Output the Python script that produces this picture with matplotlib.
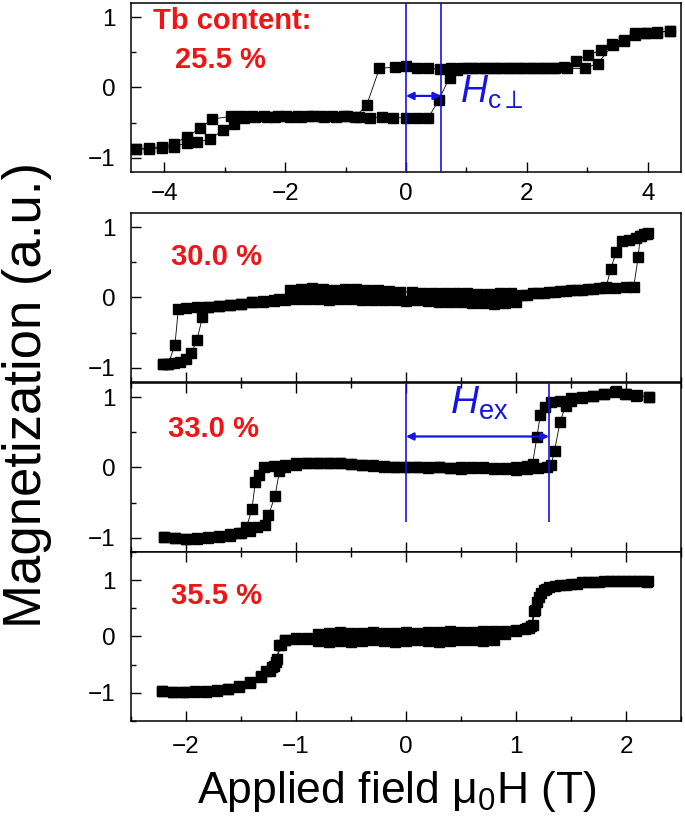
import numpy as np
import matplotlib.pyplot as plt
from matplotlib.ticker import MultipleLocator

plt.rcParams['font.family'] = ['Liberation Sans', 'DejaVu Sans']
plt.rcParams['mathtext.fontset'] = 'custom'
plt.rcParams['mathtext.rm'] = 'Liberation Sans'
plt.rcParams['mathtext.it'] = 'Liberation Sans:italic'
plt.rcParams['mathtext.bf'] = 'Liberation Sans:bold'

# === Dane: petle histerezy (pole w T, M znormalizowane) ===
# Tb 25.5 %
h255_down = [4.36, 4.16, 3.97, 3.79, 3.60, 3.40, 3.23, 3.01, 2.81, 2.62, 2.44, 2.25, 2.06, 1.87, 1.68,
             1.49, 1.30, 1.10, 0.92, 0.74, 0.56, 0.37, 0.19, 0.0, -0.19, -0.44, -0.65, -0.84, -1.03, -1.22,
             -1.41, -1.60, -1.79, -1.98, -2.16, -2.35, -2.54, -2.73, -2.90, -3.21, -3.40, -3.63, -3.84,
             -4.04, -4.25, -4.46]
m255_down = [0.80, 0.79, 0.78, 0.77, 0.68, 0.62, 0.53, 0.46, 0.38, 0.29, 0.27, 0.27, 0.28, 0.27, 0.27,
             0.27, 0.28, 0.27, 0.27, 0.27, 0.26, 0.27, 0.28, 0.31, 0.29, 0.27, -0.25, -0.42, -0.41, -0.40,
             -0.41, -0.41, -0.40, -0.41, -0.42, -0.41, -0.40, -0.41, -0.41, -0.45, -0.58, -0.70, -0.80,
             -0.84, -0.86, -0.87]
h255_up = [-4.46, -4.25, -4.04, -3.84, -3.63, -3.45, -3.24, -3.03, -2.85, -2.68, -2.49, -2.30, -2.11,
           -1.92, -1.73, -1.54, -1.35, -1.16, -0.97, -0.78, -0.59, -0.40, -0.21, 0.0, 0.19, 0.37, 0.54,
           0.72, 0.84, 1.02, 1.20, 1.38, 1.56, 1.74, 1.92, 2.10, 2.28, 2.46, 2.66, 2.96, 3.17, 3.42, 3.61,
           3.79, 3.97, 4.16, 4.36]
m255_up = [-0.87, -0.88, -0.86, -0.84, -0.79, -0.78, -0.73, -0.61, -0.52, -0.44, -0.42, -0.42, -0.41,
           -0.42, -0.42, -0.41, -0.42, -0.42, -0.41, -0.42, -0.43, -0.42, -0.43, -0.43, -0.43, -0.43, -0.18,
           0.14, 0.25, 0.28, 0.27, 0.27, 0.28, 0.27, 0.27, 0.28, 0.27, 0.27, 0.27, 0.27, 0.34, 0.60, 0.66,
           0.75, 0.77, 0.78, 0.80]

# Tb 30.0 %
h300_down = [2.20, 2.16, 2.13, 2.11, 2.07, 2.00, 1.90, 1.80, 1.70, 1.60, 1.50, 1.40, 1.30, 1.20, 1.10,
             1.00, 0.90, 0.80, 0.70, 0.60, 0.50, 0.40, 0.30, 0.20, 0.10, 0.00, -0.10, -0.20, -0.30, -0.40,
             -0.50, -0.60, -0.70, -0.80, -0.90, -1.00, -1.10, -1.20, -1.30, -1.40, -1.50, -1.60, -1.70,
             -1.80, -1.90, -2.00, -2.07, -2.10, -2.16, -2.21]
m300_down = [0.92, 0.90, 0.88, 0.57, 0.15, 0.15, 0.14, 0.13, 0.12, 0.11, 0.10, 0.09, 0.08, 0.06, 0.04,
             -0.06, -0.08, -0.09, -0.08, -0.08, -0.07, -0.06, -0.06, -0.05, -0.04, -0.05, -0.04, -0.03,
             -0.04, -0.03, -0.02, -0.02, -0.03, -0.02, -0.02, -0.02, -0.03, -0.05, -0.06, -0.07, -0.09,
             -0.10, -0.12, -0.13, -0.14, -0.15, -0.17, -0.67, -0.94, -0.95]
h300_up = [-2.21, -2.16, -2.11, -2.05, -2.00, -1.95, -1.90, -1.85, -1.80, -1.70, -1.60, -1.50, -1.40,
           -1.30, -1.20, -1.15, -1.05, -0.95, -0.85, -0.75, -0.65, -0.55, -0.45, -0.35, -0.25, -0.15, -0.05,
           0.05, 0.15, 0.25, 0.35, 0.45, 0.55, 0.65, 0.75, 0.85, 0.95, 1.05, 1.15, 1.25, 1.35, 1.45, 1.55,
           1.65, 1.75, 1.82, 1.86, 1.91, 1.96, 2.03, 2.09, 2.14, 2.19]
m300_up = [-0.95, -0.94, -0.93, -0.91, -0.87, -0.79, -0.60, -0.28, -0.13, -0.12, -0.10, -0.09, -0.07,
           -0.05, -0.04, -0.02, 0.10, 0.12, 0.13, 0.12, 0.11, 0.12, 0.12, 0.11, 0.10, 0.09, 0.08, 0.08,
           0.07, 0.06, 0.06, 0.07, 0.06, 0.05, 0.05, 0.06, 0.06, 0.04, 0.06, 0.07, 0.08, 0.09, 0.11, 0.12,
           0.13, 0.15, 0.40, 0.64, 0.80, 0.82, 0.85, 0.88, 0.90]

# Tb 33.0 %
h330_down = [2.21, 2.09, 1.99, 1.91, 1.80, 1.70, 1.60, 1.50, 1.40, 1.32, 1.26, 1.22, 1.19, 1.15, 1.10,
             1.00, 0.90, 0.80, 0.70, 0.60, 0.50, 0.40, 0.30, 0.20, 0.10, 0.00, -0.10, -0.20, -0.30, -0.40,
             -0.50, -0.60, -0.70, -0.80, -0.90, -1.00, -1.10, -1.20, -1.29, -1.34, -1.37, -1.40, -1.45,
             -1.52, -1.60, -1.70, -1.80, -1.90, -2.00, -2.10, -2.20]
m330_down = [1.00, 1.02, 1.05, 1.08, 1.05, 1.02, 1.00, 0.98, 0.95, 0.93, 0.86, 0.74, 0.43, 0.05, 0.02,
             0.01, -0.01, -0.02, -0.01, 0.00, 0.00, -0.01, 0.00, 0.01, 0.00, 0.00, 0.01, 0.02, 0.03, 0.04,
             0.05, 0.06, 0.06, 0.07, 0.06, 0.06, 0.04, 0.02, 0.00, -0.10, -0.21, -0.59, -0.85, -0.93,
             -0.97, -0.99, -1.00, -1.01, -1.01, -1.00, -0.99]
h330_up = [-2.20, -2.10, -2.00, -1.90, -1.80, -1.70, -1.60, -1.50, -1.42, -1.35, -1.28, -1.25, -1.19,
           -1.15, -1.10, -1.00, -0.90, -0.80, -0.70, -0.60, -0.50, -0.40, -0.30, -0.20, -0.10, 0.00, 0.10,
           0.20, 0.30, 0.40, 0.50, 0.60, 0.70, 0.80, 0.90, 1.00, 1.10, 1.20, 1.28, 1.32, 1.35, 1.40, 1.45,
           1.50, 1.60, 1.70, 1.80, 1.90, 2.00, 2.10, 2.21]
m330_up = [-0.99, -1.00, -1.01, -1.00, -0.99, -0.98, -0.95, -0.93, -0.90, -0.85, -0.82, -0.68, -0.40,
           -0.05, 0.01, 0.04, 0.06, 0.07, 0.06, 0.06, 0.05, 0.04, 0.02, 0.01, 0.00, 0.00, 0.00, -0.01,
           0.00, -0.01, -0.02, -0.01, 0.00, -0.01, -0.02, -0.03, -0.02, -0.01, 0.01, 0.03, 0.24, 0.64,
           0.88, 0.95, 0.99, 1.02, 1.04, 1.07, 1.05, 1.03, 1.00]

# Tb 35.5 %
h355_down = [2.19, 2.10, 2.00, 1.90, 1.80, 1.70, 1.60, 1.50, 1.40, 1.30, 1.25, 1.21, 1.17, 1.15, 1.10,
             1.00, 0.90, 0.80, 0.70, 0.60, 0.50, 0.40, 0.30, 0.20, 0.10, 0.00, -0.10, -0.20, -0.30, -0.40,
             -0.50, -0.60, -0.70, -0.80, -0.90, -1.00, -1.10, -1.15, -1.18, -1.22, -1.27, -1.32, -1.42,
             -1.52, -1.62, -1.72, -1.82, -1.92, -2.02, -2.12, -2.22]
m355_down = [0.97, 0.99, 0.99, 0.99, 0.98, 0.97, 0.96, 0.94, 0.91, 0.87, 0.82, 0.70, 0.47, 0.20, 0.15,
             0.12, 0.10, 0.09, 0.09, 0.08, 0.08, 0.09, 0.08, 0.08, 0.07, 0.08, 0.07, 0.07, 0.08, 0.07,
             0.06, 0.08, 0.07, 0.05, -0.02, -0.03, -0.06, -0.15, -0.45, -0.55, -0.62, -0.70, -0.80, -0.88,
             -0.93, -0.95, -0.96, -0.97, -0.98, -0.98, -0.97]
h355_up = [-2.22, -2.12, -2.02, -1.92, -1.82, -1.72, -1.62, -1.52, -1.42, -1.32, -1.24, -1.20, -1.17,
           -1.14, -1.10, -1.00, -0.90, -0.80, -0.70, -0.60, -0.50, -0.40, -0.30, -0.20, -0.10, 0.00, 0.10,
           0.20, 0.30, 0.40, 0.50, 0.60, 0.70, 0.80, 0.90, 1.00, 1.08, 1.12, 1.14, 1.16, 1.19, 1.23, 1.27,
           1.35, 1.45, 1.55, 1.65, 1.75, 1.85, 1.95, 2.05, 2.15, 2.20]
m355_up = [-0.97, -0.98, -0.99, -0.99, -0.98, -0.96, -0.94, -0.90, -0.83, -0.72, -0.62, -0.52, -0.40,
           -0.15, -0.07, -0.04, -0.05, -0.08, -0.09, -0.08, -0.09, -0.08, -0.07, -0.08, -0.09, -0.08,
           -0.07, -0.08, -0.09, -0.08, -0.07, -0.06, -0.08, -0.07, 0.05, 0.10, 0.13, 0.15, 0.18, 0.45,
           0.62, 0.78, 0.85, 0.89, 0.92, 0.94, 0.96, 0.97, 0.98, 0.99, 0.99, 0.98, 0.98]

labels = ['25.5 %', '30.0 %', '33.0 %', '35.5 %']

red = '#f01414'
blue = '#1414e6'

# === Figura ===
fig = plt.figure(figsize=(6.85, 8.22), dpi=100)
L, W, H = 0.1912, 0.803, 0.2056
ax1 = fig.add_axes([L, 0.7908, W, H])
ax2 = fig.add_axes([L, 0.5353, W, H])
ax3 = fig.add_axes([L, 0.3285, W, H])
ax4 = fig.add_axes([L, 0.1229, W, H])

loops = [(ax1, h255_down, m255_down, h255_up, m255_up),
         (ax2, h300_down, m300_down, h300_up, m300_up),
         (ax3, h330_down, m330_down, h330_up, m330_up),
         (ax4, h355_down, m355_down, h355_up, m355_up)]

for ax, hd, md, hu, mu in loops:
    ax.plot(hd, md, '-s', color='k', ms=7.2, lw=0.6, mec='k', zorder=2)
    ax.plot(hu, mu, '-s', color='k', ms=7.2, lw=0.6, mec='k', zorder=2)
    for sp in ax.spines.values():
        sp.set_linewidth(1.1)
    ax.yaxis.set_major_locator(MultipleLocator(1))
    ax.yaxis.set_minor_locator(MultipleLocator(0.5))
    ax.tick_params(which='both', direction='in', labelsize=17.5, width=1.0)
    ax.tick_params(which='major', length=7)
    ax.tick_params(which='minor', length=3.5)
    ax.tick_params(axis='y', pad=11)

# gorny panel - wlasna skala pola
ax1.set_xlim(-4.55, 4.55)
ax1.set_ylim(-1.2, 1.2)
ax1.xaxis.set_major_locator(MultipleLocator(2))
ax1.xaxis.set_minor_locator(MultipleLocator(1))
ax1.tick_params(axis='x', pad=8)

for ax, yl in [(ax2, 1.2), (ax3, 1.2), (ax4, 1.5)]:
    ax.set_xlim(-2.5, 2.5)
    ax.set_ylim(-yl, yl)
    ax.xaxis.set_major_locator(MultipleLocator(1))
    ax.xaxis.set_minor_locator(MultipleLocator(0.5))
ax2.tick_params(axis='x', labelbottom=False)
ax3.tick_params(axis='x', labelbottom=False, top=True, which='both')
ax4.tick_params(axis='x', top=True, which='both', pad=11)

# etykiety zawartosci Tb
ax1.text(-4.18, 0.94, 'Tb content:', color=red, fontsize=21, fontweight='bold', va='center')
ax1.text(-3.82, 0.39, labels[0], color=red, fontsize=21, fontweight='bold', va='center')
ax2.text(-2.14, 0.57, labels[1], color=red, fontsize=21, fontweight='bold', va='center')
ax3.text(-2.16, 0.54, labels[2], color=red, fontsize=21, fontweight='bold', va='center')
ax4.text(-2.14, 0.72, labels[3], color=red, fontsize=21, fontweight='bold', va='center')

# Hc (gorny panel)
ax1.axvline(0, color=blue, lw=1.2, zorder=3)
ax1.axvline(0.58, color=blue, lw=1.2, zorder=3)
ax1.annotate('', xy=(0, -0.12), xytext=(0.58, -0.12),
             arrowprops=dict(arrowstyle='<|-|>', color=blue, lw=1.6, mutation_scale=11,
                             shrinkA=0, shrinkB=0), zorder=3)
ax1.text(0.9, -0.22, r'$H_{\mathregular{c}\perp}$', color=blue, fontsize=27, va='baseline')

# Hex (panel 33 %)
ax3.vlines([0, 1.3], -0.78, 1.2, color=blue, lw=1.2, zorder=3)
ax3.annotate('', xy=(0, 0.44), xytext=(1.3, 0.44),
             arrowprops=dict(arrowstyle='<|-|>', color=blue, lw=1.6, mutation_scale=11,
                             shrinkA=0, shrinkB=0), zorder=3)
ax3.text(0.4, 0.76, r'$H_{\mathregular{ex}}$', color=blue, fontsize=28, va='baseline')

# opisy osi
fig.text(27 / 685, 1 - 395 / 822, 'Magnetization (a.u.)', rotation=90,
         ha='center', va='center', fontsize=38)
fig.text(397 / 685, 1 - 803 / 822, r'Applied field $\mathregular{\mu_0}$H (T)',
         ha='center', va='baseline', fontsize=32)

plt.savefig('out.png', dpi=100)
plt.close()
